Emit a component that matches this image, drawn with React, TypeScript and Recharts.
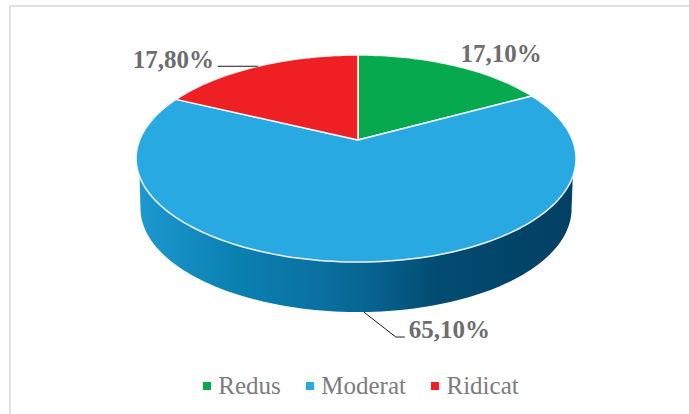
import React from 'react';
import { PieChart, Pie, Legend } from 'recharts';

const categories = ['Redus', 'Moderat', 'Ridicat'];
const shares = [17.1, 65.1, 17.8];
const sliceColors = ['#06a94d', '#29a9e1', '#ee2024'];

// label placement relative to the slice's anchor on the rim
const labelOffsets = [
  { dx: 7, dy: -3 },
  { dx: 45, dy: 26 },
  { dx: -125, dy: 2 },
];
const leaderOffsets: [number, number][][] = [
  [],
  [[32, 25], [41, 25]],
  [[-40, 0]],
];

const wallStops: [number, string][] = [
  [0, '#1c98cf'],
  [0.22, '#0a80b1'],
  [0.42, '#0a70a0'],
  [0.55, '#06608b'],
  [0.68, '#024c72'],
  [0.82, '#02466b'],
  [1, '#034064'],
];

const data = categories.map((name, i) => ({ name, value: shares[i], fill: sliceColors[i] }));

// Perspective of the tilted disc
const K = 0.179;
const FLATTEN = 100.2 / 216.4;
const LEAN = 0.009;
const WALL_DEPTH = 50;
const WALL_SHRINK = 0.98;

const project = (cx: number, cy: number, r: number, theta: number): [number, number] => {
  const rad = (theta * Math.PI) / 180;
  const u = Math.sin(rad);
  const v = Math.cos(rad);
  const w = 1 + K * v;
  return [cx + (r * u * (1 - LEAN * u)) / w, cy - (r * FLATTEN * v) / w];
};

const rimPoints = (cx: number, cy: number, r: number, from: number, to: number) => {
  const n = Math.max(2, Math.ceil(Math.abs(to - from) / 1.5));
  const pts: [number, number][] = [];
  for (let i = 0; i <= n; i++) pts.push(project(cx, cy, r, from + ((to - from) * i) / n));
  return pts;
};

const toPath = (pts: [number, number][]) =>
  pts.map((p, i) => `${i ? 'L' : 'M'}${p[0].toFixed(2)},${p[1].toFixed(2)}`).join(' ') + ' Z';

const Slice = (props: any) => {
  const { cx, cy, outerRadius, startAngle, endAngle, fill } = props;
  const from = 90 - startAngle;
  const to = 90 - endAngle;
  const top = toPath([[cx, cy], ...rimPoints(cx, cy, outerRadius, from, to)]);
  const hasWall = from < 180 && to > 180;
  let wall = '';
  if (hasWall) {
    const upper = rimPoints(cx, cy, outerRadius, 110, 250);
    const lower = rimPoints(cx, cy, outerRadius, 259.7, 100.3).map(
      ([x, y]) => [cx - 2 + (x - cx + 2) * WALL_SHRINK, y + WALL_DEPTH] as [number, number]
    );
    wall = toPath([...upper, ...lower]);
  }
  return (
    <g>
      {hasWall && (
        <>
          <defs>
            <linearGradient
              id="wallGrad"
              gradientUnits="userSpaceOnUse"
              x1={cx - outerRadius}
              x2={cx + outerRadius}
              y1={0}
              y2={0}
            >
              {wallStops.map(([o, c]) => (
                <stop key={o} offset={o} stopColor={c} />
              ))}
            </linearGradient>
          </defs>
          <path d={wall} fill="url(#wallGrad)" />
        </>
      )}
      <path d={top} fill={fill} stroke="#f1f5f5" strokeWidth={1.5} strokeLinejoin="round" />
    </g>
  );
};

const SliceLabel = (props: any) => {
  const { cx, cy, outerRadius, midAngle, value, index } = props;
  const theta = 90 - midAngle;
  const [x0, y0] = project(cx, cy, outerRadius, theta);
  const ax = x0;
  const ay = y0 + (index === 1 ? WALL_DEPTH : 0);
  const off = labelOffsets[index];
  const leader = leaderOffsets[index];
  return (
    <g>
      {leader.length > 0 && (
        <polyline
          points={[[0, 0], ...leader].map(([dx, dy]) => `${ax + dx},${ay + dy}`).join(' ')}
          fill="none"
          stroke="#1a1a1a"
          strokeWidth={1}
        />
      )}
      <text
        x={ax + off.dx}
        y={ay + off.dy}
        fill="#6d6d6f"
        fontFamily="'Liberation Serif', serif"
        fontWeight={700}
        fontSize={25}
        textAnchor="start"
      >
        {value.toFixed(2).replace('.', ',')}%
      </text>
    </g>
  );
};

const LegendContent = ({ payload }: any) => (
  <div
    style={{
      display: 'flex',
      justifyContent: 'center',
      gap: 25.5,
      fontFamily: "'Liberation Serif', serif",
      fontSize: 25,
      color: '#7c7c80',
      lineHeight: '28px',
    }}
  >
    {(payload || []).map((e: any) => (
      <span key={e.value} style={{ display: 'flex', alignItems: 'center', gap: 7 }}>
        <span style={{ width: 8, height: 8, background: e.color, display: 'inline-block' }} />
        {e.value}
      </span>
    ))}
  </div>
);

export default function App() {
  return (
    <div style={{ position: 'absolute', left: 0, top: 0, width: 689, height: 414, background: '#fff', overflow: 'hidden' }}>
      <div
        style={{
          position: 'absolute',
          left: 9,
          top: 5,
          width: 680,
          height: 409,
          borderTop: '2px solid #e2e2e2',
          borderLeft: '2px solid #e2e2e2',
        }}
      />
      <PieChart width={689} height={414} margin={{ top: 0, right: 0, bottom: 0, left: 0 }}>
        <Pie
          data={data}
          dataKey="value"
          nameKey="name"
          cx={358}
          cy={140}
          innerRadius={0}
          outerRadius={216.4}
          startAngle={90}
          endAngle={-270}
          paddingAngle={0}
          stroke="none"
          shape={Slice}
          label={SliceLabel}
          labelLine={false}
          isAnimationActive={false}
        />
        <Legend
          content={LegendContent}
          itemSorter={null}
          wrapperStyle={{ left: 0, top: 372, width: 722, height: 28 }}
        />
      </PieChart>
    </div>
  );
}
